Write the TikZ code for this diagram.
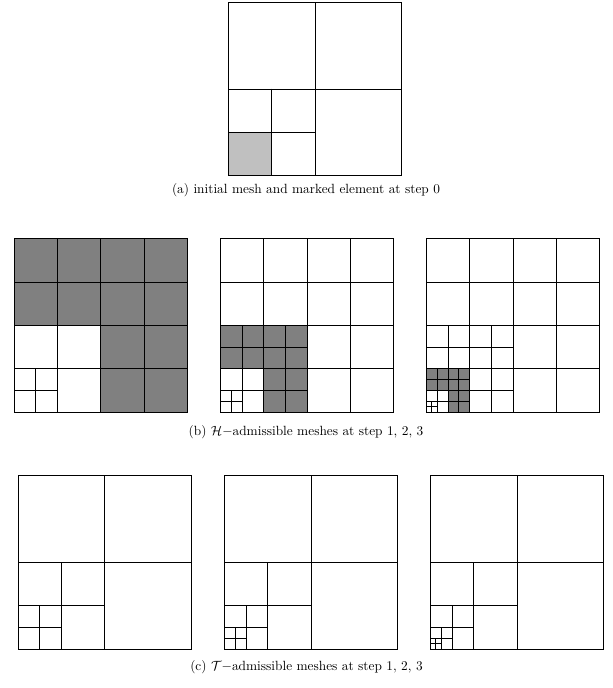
\documentclass[tikz,border=0pt]{standalone}
\definecolor{lightcell}{RGB}{192,192,192}
\definecolor{darkcell}{RGB}{128,128,128}
\tikzset{
 meshline/.style={line width=0.65pt, black, line cap=rect},
 caption/.style={font=\normalsize, inner sep=0pt},
 meshunit/.style={x=4.0664pt, y=4.0664pt},
}
\begin{document}
\begin{tikzpicture}[x=0.75pt,y=0.75pt]
\useasboundingbox (0,0) rectangle (612,688);
% (a)
\begin{scope}[shift={(228.3,512.3)}, meshunit]
 \fill[lightcell] (0,0) rectangle (8,8);
 \draw[meshline] (0,0) rectangle (32,32);
 \draw[meshline] (16,0)--(16,32) (0,16)--(32,16);
 \draw[meshline] (8,0)--(8,16) (0,8)--(16,8);
\end{scope}
\node[caption] (capa) at (306,498) {(a) initial mesh and marked element at step 0};
% (b) step 1
\begin{scope}[shift={(14,275.7)}, meshunit]
 \fill[darkcell] (0,16) rectangle (32,32);
 \fill[darkcell] (16,0) rectangle (32,16);
 \foreach \k in {0,8,16,24,32} {\draw[meshline] (\k,0)--(\k,32); \draw[meshline] (0,\k)--(32,\k);}
 \draw[meshline] (4,0)--(4,8) (0,4)--(8,4);
\end{scope}
% (b) step 2
\begin{scope}[shift={(220.3,275.7)}, meshunit]
 \fill[darkcell] (0,8) rectangle (16,16);
 \fill[darkcell] (8,0) rectangle (16,8);
 \foreach \k in {0,8,16,24,32} {\draw[meshline] (\k,0)--(\k,32); \draw[meshline] (0,\k)--(32,\k);}
 \foreach \k in {4,12} {\draw[meshline] (\k,0)--(\k,16); \draw[meshline] (0,\k)--(16,\k);}
 \draw[meshline] (2,0)--(2,4) (0,2)--(4,2);
\end{scope}
% (b) step 3
\begin{scope}[shift={(426.3,275.7)}, meshunit]
 \fill[darkcell] (0,4) rectangle (8,8);
 \fill[darkcell] (4,0) rectangle (8,4);
 \foreach \k in {0,8,16,24,32} {\draw[meshline] (\k,0)--(\k,32); \draw[meshline] (0,\k)--(32,\k);}
 \foreach \k in {4,12} {\draw[meshline] (\k,0)--(\k,16); \draw[meshline] (0,\k)--(16,\k);}
 \foreach \k in {2,6} {\draw[meshline] (\k,0)--(\k,8); \draw[meshline] (0,\k)--(8,\k);}
 \draw[meshline] (1,0)--(1,2) (0,1)--(2,1);
\end{scope}
\node[caption] (capb) at (306,256) {(b) $\mathcal{H}-$admissible meshes at step 1, 2, 3};
% (c) step 1
\begin{scope}[shift={(18,39)}, meshunit]
 \draw[meshline] (0,0) rectangle (32,32);
 \draw[meshline] (16,0)--(16,32) (0,16)--(32,16);
 \draw[meshline] (8,0)--(8,16) (0,8)--(16,8);
 \draw[meshline] (4,0)--(4,8) (0,4)--(8,4);
\end{scope}
% (c) step 2
\begin{scope}[shift={(224.3,39)}, meshunit]
 \draw[meshline] (0,0) rectangle (32,32);
 \draw[meshline] (16,0)--(16,32) (0,16)--(32,16);
 \draw[meshline] (8,0)--(8,16) (0,8)--(16,8);
 \draw[meshline] (4,0)--(4,8) (0,4)--(8,4);
 \draw[meshline] (2,0)--(2,4) (0,2)--(4,2);
\end{scope}
% (c) step 3
\begin{scope}[shift={(430.3,39)}, meshunit]
 \draw[meshline] (0,0) rectangle (32,32);
 \draw[meshline] (16,0)--(16,32) (0,16)--(32,16);
 \draw[meshline] (8,0)--(8,16) (0,8)--(16,8);
 \draw[meshline] (4,0)--(4,8) (0,4)--(8,4);
 \draw[meshline] (2,0)--(2,4) (0,2)--(4,2);
 \draw[meshline] (1,0)--(1,2) (0,1)--(2,1);
\end{scope}
\node[caption] (capc) at (306.5,21) {(c) $\mathcal{T}-$admissible meshes at step 1, 2, 3};
\end{tikzpicture}
\end{document}
